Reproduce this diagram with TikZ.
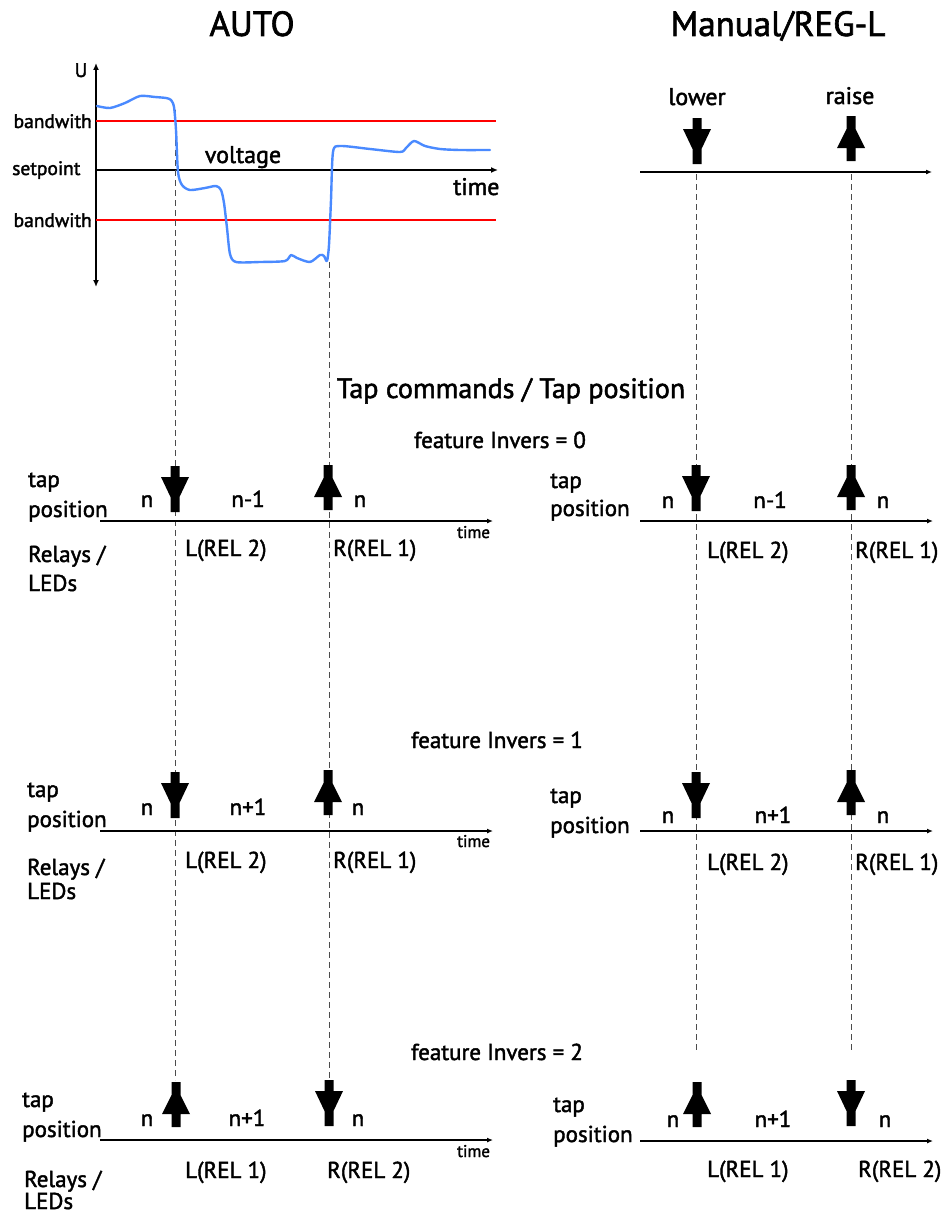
\documentclass[tikz,border=0pt]{standalone}
\usepackage{fontspec}
\setmainfont{PT Sans}[FakeBold=1.8]
\usetikzlibrary{arrows.meta}
\begin{document}
\begin{tikzpicture}[x=1pt,y=-1pt,
  lbl/.style={inner sep=0pt, font=\fontsize{23}{26}\selectfont},
  small/.style={inner sep=0pt, font=\fontsize{17}{19}\selectfont},
  glbl/.style={inner sep=0pt, font=\fontsize{19.5}{21}\selectfont},
  mid/.style={inner sep=0pt, font=\fontsize{24}{27}\selectfont},
  title/.style={inner sep=0pt, font=\fontsize{35}{40}\selectfont},
  head/.style={inner sep=0pt, font=\fontsize{28}{32}\selectfont},
  feat/.style={inner sep=0pt, font=\fontsize{23}{26}\selectfont},
  axis/.style={line width=1.6pt, black, -{Latex[length=7pt,width=6pt]}},
  taxis/.style={line width=1.2pt, black, -{Latex[length=6pt,width=5pt]}},
  band/.style={line width=1.8pt, red},
  guide/.style={line width=1pt, black!70, dash pattern=on 6pt off 4pt},
  volt/.style={line width=2.4pt, color={rgb,255:red,74;green,138;blue,255}, line cap=round, line join=round},
  dnarr/.pic={\fill[black] (-4.5,0) -- (4.5,0) -- (4.5,11) -- (14,11) -- (4.5,31) -- (4.5,46) -- (-4.5,46) -- (-4.5,31) -- (-14,11) -- (-4.5,11) -- cycle;},
  uparr/.pic={\fill[black] (-4.5,0) -- (4.5,0) -- (4.5,13) -- (14,32) -- (4.5,32) -- (4.5,45) -- (-4.5,45) -- (-4.5,32) -- (-14,32) -- (-4.5,13) -- cycle;}
]
\fill[white] (0,0) rectangle (952,1215);
\useasboundingbox (0,0) rectangle (952,1215);

% titles
\node[title, anchor=base] (tauto) at (252,36) {AUTO};
\node[title, anchor=base] (tman) at (778,36) {Manual/REG-L};

% ---------- voltage graph ----------
\coordinate (ubot) at (96,287);
\coordinate (utop) at (96,63);
\draw[axis, {Latex[length=7pt,width=6pt]}-{Latex[length=7pt,width=6pt]}] (ubot) -- (utop);
\node[glbl, anchor=base] (ulab) at (81,77) {U};
\coordinate (b1a) at (96,121); \coordinate (b1b) at (496,121);
\coordinate (b2a) at (96,220); \coordinate (b2b) at (496,220);
\draw[band] (b1a) -- (b1b);
\draw[band] (b2a) -- (b2b);
\coordinate (spa) at (96,170); \coordinate (spb) at (498,170);
\draw[axis] (spa) -- (spb);
\node[glbl, anchor=base east] (bw1) at (92,128) {bandwith};
\node[glbl, anchor=base west] (spl) at (12,175) {setpoint};
\node[glbl, anchor=base east] (bw2) at (92,227) {bandwith};
\node[mid, anchor=base] (voltl) at (243,163) {voltage};
\node[mid, anchor=base west] (timel) at (453,195) {time};

% guide lines (dashed)
\coordinate (gL1t) at (175,110); \coordinate (gL1b) at (175,1080);
\coordinate (gL2t) at (329,262); \coordinate (gL2b) at (329,1080);
\coordinate (gR1t) at (696,174); \coordinate (gR1b) at (696,1052);
\coordinate (gR2t) at (851,174); \coordinate (gR2b) at (851,1052);
\draw[guide] (gL1t) -- (gL1b);
\draw[guide] (gL2t) -- (gL2b);
\draw[guide] (gR1t) -- (gR1b);
\draw[guide] (gR2t) -- (gR2b);

\draw[volt] plot[smooth, tension=0.45] coordinates {
 (97,106) (110,108) (125,103) (140,96) (155,97) (166,98) (171,100) (174,107)
 (176,130) (178,172) (182,185) (190,190) (205,188) (216,186) (221,190) (224,203)
 (227,228) (230,254) (236,262) (260,262) (285,261) (291,255) (297,258) (310,262)
 (320,255) (324,256) (327,261) (329,245) (331,200) (333,152) (340,146) (370,149)
 (400,152) (406,148) (414,141) (425,146) (440,149) (460,150) (490,150)};

% ---------- manual top ----------
\coordinate (mta) at (640,172); \coordinate (mtb) at (932,172);
\draw[taxis] (mta) -- (mtb);
\node[mid, anchor=base] (lowl) at (697,105) {lower};
\node[mid, anchor=base] (raisel) at (850,104) {raise};
\pic (mdn) at (697,118) {dnarr};
\pic (mup) at (851,116) {uparr};

% ---------- headings ----------
\node[head, anchor=base] (tapcmd) at (511,398) {Tap commands / Tap position};
\node[feat, anchor=base] (f0) at (500,448) {feature Invers = 0};
\node[feat, anchor=base] (f1) at (497,748) {feature Invers = 1};
\node[feat, anchor=base] (f2) at (497,1060) {feature Invers = 2};

% ---------- row 1 ----------
\coordinate (r1la) at (100,521); \coordinate (r1lb) at (493,521);
\draw[taxis] (r1la) -- (r1lb);
\pic (r1ld) at (175,466) {dnarr};
\pic (r1lu) at (328,465) {uparr};
\node[lbl, anchor=base west] (r1tap) at (28,487) {tap};
\node[lbl, anchor=base west] (r1pos) at (28,517) {position};
\node[lbl, anchor=base] (r1n1) at (147,507) {n};
\node[lbl, anchor=base] (r1n2) at (248,507) {n-1};
\node[lbl, anchor=base] (r1n3) at (360,507) {n};
\node[small, anchor=base west] (r1time) at (457,538) {time};
\node[lbl, anchor=base west] (r1L) at (185,556) {L(REL 2)};
\node[lbl, anchor=base west] (r1R) at (333,556) {R(REL 1)};
\node[lbl, anchor=base west] (r1rel) at (28,562) {Relays /};
\node[lbl, anchor=base west] (r1led) at (28,591) {LEDs};

\coordinate (r1ra) at (640,521); \coordinate (r1rb) at (933,521);
\draw[taxis] (r1ra) -- (r1rb);
\pic (r1rd) at (696,465) {dnarr};
\pic (r1ru) at (851,465) {uparr};
\node[lbl, anchor=base west] (r1tapR) at (550,488) {tap};
\node[lbl, anchor=base west] (r1posR) at (550,516) {position};
\node[lbl, anchor=base] (r1n1R) at (668,508) {n};
\node[lbl, anchor=base] (r1n2R) at (770,508) {n-1};
\node[lbl, anchor=base] (r1n3R) at (883,508) {n};
\node[lbl, anchor=base west] (r1LR) at (707,558) {L(REL 2)};
\node[lbl, anchor=base west] (r1RR) at (855,558) {R(REL 1)};

% ---------- row 2 ----------
\coordinate (r2la) at (100,831); \coordinate (r2lb) at (493,831);
\draw[taxis] (r2la) -- (r2lb);
\pic (r2ld) at (175,772) {dnarr};
\pic (r2lu) at (328,770) {uparr};
\node[lbl, anchor=base west] (r2tap) at (27,797) {tap};
\node[lbl, anchor=base west] (r2pos) at (27,827) {position};
\node[lbl, anchor=base] (r2n1) at (147,815) {n};
\node[lbl, anchor=base] (r2n2) at (248,815) {n+1};
\node[lbl, anchor=base] (r2n3) at (358,815) {n};
\node[small, anchor=base west] (r2time) at (457,847) {time};
\node[lbl, anchor=base west] (r2L) at (185,868) {L(REL 2)};
\node[lbl, anchor=base west] (r2R) at (333,868) {R(REL 1)};
\node[lbl, anchor=base west] (r2rel) at (27,875) {Relays /};
\node[lbl, anchor=base west] (r2led) at (27,899) {LEDs};

\coordinate (r2ra) at (640,831); \coordinate (r2rb) at (933,831);
\draw[taxis] (r2ra) -- (r2rb);
\pic (r2rd) at (696,772) {dnarr};
\pic (r2ru) at (851,770) {uparr};
\node[lbl, anchor=base west] (r2tapR) at (550,803) {tap};
\node[lbl, anchor=base west] (r2posR) at (550,833) {position};
\node[lbl, anchor=base] (r2n1R) at (668,823) {n};
\node[lbl, anchor=base] (r2n2R) at (773,823) {n+1};
\node[lbl, anchor=base] (r2n3R) at (883,823) {n};
\node[lbl, anchor=base west] (r2LR) at (707,870) {L(REL 2)};
\node[lbl, anchor=base west] (r2RR) at (855,870) {R(REL 1)};

% ---------- row 3 ----------
\coordinate (r3la) at (100,1140); \coordinate (r3lb) at (493,1140);
\draw[taxis] (r3la) -- (r3lb);
\pic (r3lu) at (176,1082) {uparr};
\pic (r3ld) at (329,1080) {dnarr};
\node[lbl, anchor=base west] (r3tap) at (22,1107) {tap};
\node[lbl, anchor=base west] (r3pos) at (22,1137) {position};
\node[lbl, anchor=base] (r3n1) at (147,1126) {n};
\node[lbl, anchor=base] (r3n2) at (247,1126) {n+1};
\node[lbl, anchor=base] (r3n3) at (358,1126) {n};
\node[small, anchor=base west] (r3time) at (457,1157) {time};
\node[lbl, anchor=base west] (r3L) at (185,1178) {L(REL 1)};
\node[lbl, anchor=base west] (r3R) at (327,1178) {R(REL 2)};
\node[lbl, anchor=base west] (r3rel) at (24,1187) {Relays /};
\node[lbl, anchor=base west] (r3led) at (24,1209) {LEDs};

\coordinate (r3ra) at (640,1141); \coordinate (r3rb) at (933,1141);
\draw[taxis] (r3ra) -- (r3rb);
\pic (r3ru) at (697,1082) {uparr};
\pic (r3rd) at (851,1080) {dnarr};
\node[lbl, anchor=base west] (r3tapR) at (553,1112) {tap};
\node[lbl, anchor=base west] (r3posR) at (553,1142) {position};
\node[lbl, anchor=base] (r3n1R) at (673,1127) {n};
\node[lbl, anchor=base] (r3n2R) at (773,1127) {n+1};
\node[lbl, anchor=base] (r3n3R) at (885,1127) {n};
\node[lbl, anchor=base west] (r3LR) at (707,1177) {L(REL 1)};
\node[lbl, anchor=base west] (r3RR) at (858,1177) {R(REL 2)};
\end{tikzpicture}
\end{document}
